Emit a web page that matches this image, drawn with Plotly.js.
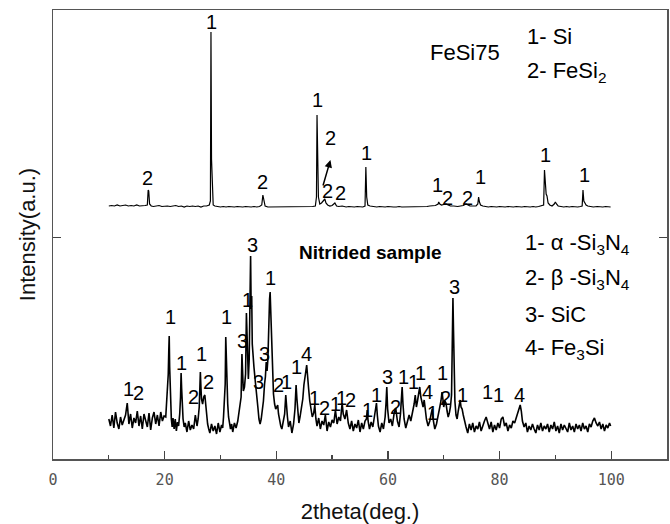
<!DOCTYPE html>
<html>
<head>
<meta charset="utf-8">
<script src="https://cdn.plot.ly/plotly-3.0.1.min.js"></script>
<style>html,body{margin:0;padding:0;background:#fff;}#chart{width:670px;height:524px;}</style>
</head>
<body>
<div id="chart"></div>
<script>
// ---- FeSi75 pattern (upper curve), intensity in a.u. ----
const topX = [10.0,10.5,11,11.5,12,12.5,13,13.5,14,14.5,15,15.5,16,16.5,16.9,17.05,17.15,17.3,17.6,18,
  18.5,19,19.5,20,20.5,21,21.5,22,22.5,23,23.5,24,24.5,25,25.5,26,26.5,27,27.5,28,
  28.2,28.3,28.4,28.45,28.55,28.7,29,29.5,30,30.5,31,31.5,32,32.5,33,33.5,34,34.5,35,35.5,
  36,36.5,37,37.4,37.6,37.8,38,38.5,39,39.5,40,40.5,41,41.5,42,42.5,43,43.5,44,44.5,
  45,45.5,46,46.5,47,47.2,47.3,47.4,47.55,47.8,48.1,48.4,48.7,48.9,49.2,49.6,50,50.3,50.5,50.8,
  51.2,51.8,52.5,53,53.5,54,54.5,55,55.5,55.9,56.05,56.2,56.4,56.8,57.5,58,58.5,59,59.5,60,
  60.5,61,61.5,62,62.5,63,63.5,64,64.5,65,65.5,66,66.5,67,67.5,68,68.5,69,69.1,69.3,
  69.6,70,70.4,70.8,71.2,71.8,72.5,73,73.5,74,74.3,74.7,75.2,75.8,76.1,76.25,76.4,76.6,77,77.5,
  78,78.5,79,79.5,80,80.5,81,81.5,82,82.5,83,83.5,84,84.5,85,85.5,86,86.5,87,87.5,
  87.9,88.05,88.2,88.35,88.5,88.7,89,89.4,89.8,90.0,90.2,90.5,91,91.5,92,92.5,93,93.5,94,94.5,
  94.8,94.95,95.1,95.3,95.5,95.8,96.2,96.8,97.5,98,98.5,99,99.5,99.9];
const topY = [253,253.5,253,254,253,253.5,254,253,253.5,253,254,253,253,253.5,254,269,268,255,253,252.5,
  253,253.5,252.5,253,253,252.5,253,253.5,252.5,253,252,253,252.5,253,252.5,253,252,253,253,254,
  258,427,300,289,262,254,253,252.5,252,252.5,252,252.5,252,252,252.5,252,252,252.5,252,252,
  252.5,252,252.5,254,264,258,253,252,252,252.5,252,252,252.5,252,252,252,252.5,252,252,252,
  252.5,252,252,252.5,253,262,344,275,262,255,256,258,260,256,254,253,253.5,255,256,253,
  252.5,253,252,252.5,252,252,252.5,252,252,253,292,262,254,253,252.5,252,252.5,252,252,252.5,
  252,252,252,252.5,252,252,252.5,252,252,252.5,252,252.5,252,252.5,253,253,253.5,255,257,255,
  254,254.5,255,254,253,253,252.5,253,253.5,255,254,253,253,253,255,262,257,254,253,252.5,
  252,252.5,252,252,252.5,252,252,252.5,252,252,252.5,252,252,252.5,252,252,252.5,252,252.5,253,
  254,289,272,265,263,256,254,253,255,257,255,253,252.5,252,252.5,252,252.5,252,252,252.5,
  253,269,258,256,254,253,252.5,252,252.5,252,252,252.5,252,252];

// ---- Nitrided sample pattern (lower curve), intensity in a.u. ----
const botX = [
  10.0,10.3,10.6,10.9,11.2,11.5,11.8,12.1,12.4,12.7, 13.0,13.3,13.6,13.9,14.2,14.5,14.8,15.1,15.4,15.7,
  16.0,16.3,16.6,16.9,17.2,17.5,17.8,18.1,18.4,18.7, 19.0,19.3,19.6,19.9,20.2,
  20.35,20.45,20.55,20.65,20.75,20.82,20.9,21.0,21.1,21.2,21.35,21.5,
  21.7,21.9,22.1,22.3,22.5,22.7,22.85,22.95,23.05,23.15,23.3,23.5,
  23.7,24.0,24.3,24.6,24.9,25.2,25.5,25.8,26.0,
  26.2,26.3,26.4,26.5,26.6,26.8,27.0,27.2,27.35,27.5,27.7,27.9,
  28.1,28.4,28.7,29.0,29.3,29.6,29.9,30.2,30.4,
  30.55,30.7,30.85,30.95,31.05,31.15,31.3,31.45,31.6,31.8,32.0,
  32.2,32.5,32.8,33.1,33.35,
  33.55,33.7,33.85,33.95,34.1,34.3,34.5,34.65,34.75,34.85, 35.0,35.15,35.3,35.4,35.5,35.6,35.7,35.85,36.0,36.2,
  36.4,36.55,36.7,36.9,37.1,37.3,37.5,
  37.7,37.9,38.05,38.2,38.35,38.5,38.65,38.8,38.9,39.0, 39.15,39.3,39.5,39.7,39.9,40.1,40.25,40.4,40.6,40.8,
  41.0,41.25,41.5,41.7,41.85,42.0,42.2,42.5,42.8,43.1, 43.35,43.55,43.7,43.85,44.05,44.25,44.5,44.75,44.95,45.15,
  45.3,45.45,45.6,45.8,46.0,46.2,46.45,46.7,46.9,47.1,
  47.3,47.6,47.9,48.2,48.5,48.8,49.1,49.4,49.7,50.0, 50.3,50.6,50.9,51.2,51.5,51.8,52.0,52.3,52.6,52.9,
  53.2,53.5,53.8,54.1,54.4,54.7,55.0,55.3,55.6,55.9,
  56.15,56.3,56.45,56.7,57.0,57.3,57.6,57.8,57.95,58.1, 58.3,58.6,58.9,59.2,59.5,59.65,59.8,59.95,60.2,60.5,
  60.8,61.1,61.4,61.7,62.0,62.25,62.4,62.55,62.7,62.9, 63.2,63.5,63.8,
  64.1,64.4,64.7,64.9,65.1,65.3,65.5,65.7,65.9,66.1, 66.3,66.5,66.7,66.9,67.2,67.5,67.75,67.95,68.15,68.4,
  68.7,69.0,69.3,69.5,69.7,69.85,70.0,70.2,70.4,70.6, 70.8,71.0,71.2,71.4,71.55,71.65,71.75,71.85,72.0,72.2,
  72.4,72.6,72.8,72.95,73.1,73.3,73.5,73.7,74.0,
  74.3,74.6,74.9,75.2,75.5,75.8,76.1,76.4,76.7,77.0, 77.3,77.6,77.9,78.2,78.5,78.8,79.1,79.4,79.7,80.0,
  80.3,80.6,80.9,81.2,81.5,81.8,82.1,82.4,82.7,83.0, 83.3,83.5,83.7,83.9,84.1,84.4,84.7,85.0,85.3,85.6,
  85.9,86.2,86.5,86.8,87.1,87.4,87.7,88.0,88.3,88.6, 88.9,89.2,89.5,89.8,90.1,90.4,90.7,91.0,91.3,91.6,
  91.9,92.2,92.5,92.8,93.1,93.4,93.7,94.0,94.3,94.6, 94.9,95.2,95.5,95.8,96.1,96.4,96.7,97.0,97.3,97.6,
  97.9,98.2,98.5,98.8,99.1,99.4,99.7,99.9];
const botY = [
  40,33,44,31,47,36,30,42,34,39, 44,56,35,45,31,41,36,48,33,43,
  30,45,37,32,46,29,41,47,35,44, 33,47,38,43,42,
  55,75,78,85,110,123,92,70,50,40,32,41,
  30,40,28,37,33,45,62,86,70,52,40,32,
  36,27,38,29,34,30,44,33,40,
  52,70,87,72,60,55,62,64,55,45,35,30,
  26,35,28,33,25,36,27,34,31,
  42,57,75,122,100,70,55,42,36,30,35,
  27,36,31,38,48,
  55,62,105,78,68,72,85,146,120,95, 80,100,150,203,150,163,115,100,92,80,
  70,66,52,40,35,40,48,
  58,75,82,97,88,100,140,160,167,150, 110,80,65,55,50,52,54,45,38,33,
  30,38,45,64,50,42,32,38,26,35, 50,74,60,45,36,42,52,60,74,80,
  88,94,78,70,58,50,42,46,54,40,
  33,41,30,38,34,44,28,37,32,39, 36,49,35,42,38,56,45,40,49,36,
  30,38,28,35,31,39,27,36,30,38,
  40,49,38,30,37,32,42,50,56,44, 33,27,36,30,42,55,72,50,36,40,
  33,45,51,38,32,45,60,72,55,40, 31,38,44,
  38,46,55,64,52,58,68,72,62,55, 52,59,48,40,33,38,45,50,38,30,
  35,42,52,58,67,60,52,58,56,48, 42,46,52,64,110,161,129,80,58,44,
  40,48,55,59,52,50,44,38,32,
  26,35,29,36,27,33,30,37,28,34, 38,42,35,30,37,27,34,29,36,31,
  40,42,33,36,28,34,31,38,36,42, 46,50,54,48,38,32,36,27,33,29,
  35,30,26,34,29,36,28,33,30,35, 27,34,30,37,28,33,26,35,29,34,
  31,27,36,29,33,27,35,30,34,28, 36,30,33,27,35,32,38,41,36,33,
  37,30,35,28,34,31,36,33];

// ---- Peak index labels ----
const topLabText = ['2','1','2','1','2','2','2','1','1','2','2','1','1','1'];
const topLabX    = [16.9,28.4,37.5,47.4,49.7,49.2,51.5,56.2,68.9,70.7,74.3,76.5,88.3,95.3];
const topLabY    = [281,437,277,359,321,268,266,306,274,261,261,282,304,284];

const botLabText = ['1','2','1','1','2','1','2','1','3','1','3','3','3','1','2','1','1','4',
  '1','2','1','1','2','1','1','3','2','1','1','1','4','1','1','2','3','1','1','1','4'];
const botLabX = [13.5,15.3,21.0,23.0,25.1,26.6,27.8,31.1,33.9,34.8,35.7,36.8,37.9,39.0,40.4,41.8,43.6,45.4,
  46.9,48.7,50.6,51.7,53.3,56.4,58.0,60.0,61.4,62.8,64.6,65.9,67.1,68.0,69.8,70.4,72.0,73.4,77.9,79.9,83.5];
const botLabY = [70,66,142,96,62,105,77,142,118,159,214,77,105,181,74,77,92,105,
  61,51,55,61,59,49,64,82,52,82,77,86,67,46,86,61,172,64,67,64,64];

// ---- Phase keys ----
const keyText = ['FeSi75','1- Si','2- FeSi<sub>2</sub>','<b>Nitrided sample</b>',
  '1- α -Si<sub>3</sub>N<sub>4</sub>','2- β -Si<sub>3</sub>N<sub>4</sub>','3- SiC','4- Fe<sub>3</sub>Si'];
const keyX = [67.1,84.6,84.6,43.8,84.2,84.2,84.2,84.2];
const keyY = [407,423,387,207,215,180,145,110];

const labelFont = {family:'Liberation Sans, Arial, sans-serif', size:20, color:'#000'};
const ann = [];
topLabText.forEach((t,i)=>ann.push({x:topLabX[i], y:topLabY[i], xref:'x', yref:'y', text:t, showarrow:false, font:labelFont}));
botLabText.forEach((t,i)=>ann.push({x:botLabX[i], y:botLabY[i], xref:'x', yref:'y', text:t, showarrow:false, font:labelFont}));
keyText.forEach((t,i)=>ann.push({x:keyX[i], y:keyY[i], xref:'x', yref:'y', text:t, showarrow:false,
  xanchor:'left', yanchor:'middle',
  font:{family:'Liberation Sans, Arial, sans-serif', size:(i===3?19:22), color:'#000'}}));
// arrow pointing from the weak FeSi2 reflection to its label
ann.push({x:49.7, y:299, ax:48.3, ay:272, axref:'x', ayref:'y', xref:'x', yref:'y', text:'',
  showarrow:true, arrowhead:2, arrowsize:1, arrowwidth:1.5, arrowcolor:'#000'});

const data = [
  {x:topX, y:topY, type:'scatter', mode:'lines', line:{color:'#000', width:1.2}, hoverinfo:'skip', name:'FeSi75'},
  {x:botX, y:botY, type:'scatter', mode:'lines', line:{color:'#000', width:1.6}, hoverinfo:'skip', name:'Nitrided sample'}
];

const layout = {
  width:670, height:524,
  margin:{l:53, r:3, t:10, b:65},
  paper_bgcolor:'#fff', plot_bgcolor:'#fff',
  showlegend:false,
  xaxis:{
    range:[0,110], tickvals:[0,20,40,60,80,100], ticks:'inside', ticklen:8, tickwidth:1.2, tickcolor:'#444',
    minor:{tickvals:[10,30,50,70,90], ticks:'inside', ticklen:4, tickcolor:'#444'},
    showgrid:false, zeroline:false, showline:true, linecolor:'#555', linewidth:1.5, mirror:true,
    tickfont:{family:'DejaVu Sans Mono, monospace', size:15, color:'#555'},
    ticklabelstandoff:6,
    title:{text:'2theta(deg.)', font:{family:'Liberation Sans, Arial, sans-serif', size:22, color:'#111'}, standoff:17}
  },
  yaxis:{
    range:[0,449], tickvals:[222], ticks:'inside', ticklen:8, tickcolor:'#444', showticklabels:false,
    showgrid:false, zeroline:false, showline:true, linecolor:'#555', linewidth:1.5, mirror:'ticks',
    title:{text:'Intensity(a.u.)', font:{family:'Liberation Sans, Arial, sans-serif', size:22, color:'#111'}, standoff:10}
  },
  annotations: ann
};

Plotly.newPlot('chart', data, layout, {displayModeBar:false, staticPlot:true});
</script>
</body>
</html>
